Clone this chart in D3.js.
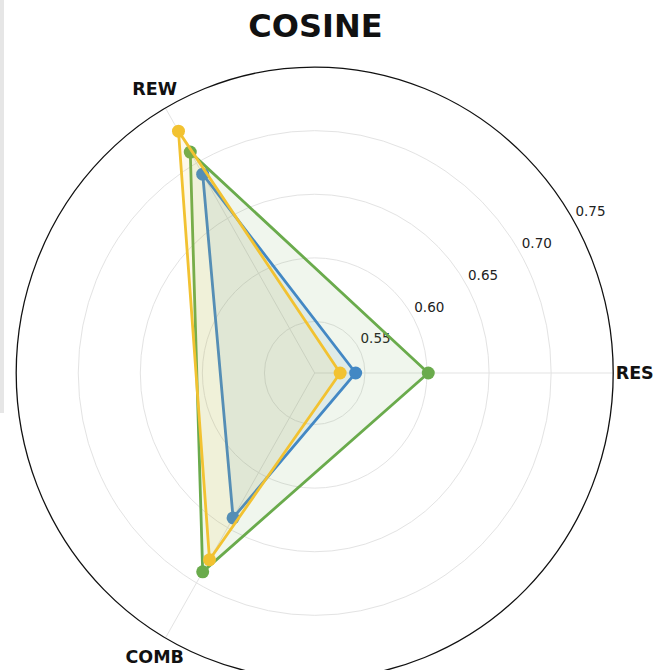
<!DOCTYPE html>
<html>
<head>
<meta charset="utf-8">
<script src="https://cdn.jsdelivr.net/npm/d3@7"></script>
<style>
  html, body { margin: 0; padding: 0; background: #ffffff; }
  svg { display: block; }
</style>
</head>
<body>
<svg id="chart" width="659" height="670"></svg>
<script>
// Radar axes, clockwise from the right
const categories = ["RES", "REW", "COMB"];
const categoryAngles = [0, 120, 240]; // degrees, counter-clockwise from east

// Cosine score of each run on each axis
const seriesNames = ["run A", "run B", "run C"];
const seriesA = [0.5425, 0.690, 0.641]; // blue
const seriesB = [0.601, 0.710, 0.690];  // green
const seriesC = [0.530, 0.729, 0.679];  // yellow
const seriesColors = ["#3f85d2", "#6aab4c", "#f2c231"];

const radialTicks = [0.55, 0.60, 0.65, 0.70, 0.75];
const radialDomain = [0.5095, 0.75];

const svg = d3.select("#chart");
const cx = 314.7, cy = 373;
const R = 298.5;
const ky = 1.025; // vertical aspect of the plot area

const r = d3.scaleLinear().domain(radialDomain).range([0, R]);
const rad = d => d * Math.PI / 180;
const px = (v, a) => cx + r(v) * Math.cos(rad(a));
const py = (v, a) => cy - r(v) * Math.sin(rad(a)) * ky;

// thin strip at the left edge
svg.append("rect").attr("x", 0).attr("y", 0).attr("width", 4).attr("height", 413)
  .attr("fill", "#e6e6e6");

const grid = svg.append("g");

// concentric grid rings
grid.selectAll("ellipse.ring")
  .data(radialTicks.slice(0, -1))
  .join("ellipse")
  .attr("class", "ring")
  .attr("cx", cx).attr("cy", cy)
  .attr("rx", d => r(d)).attr("ry", d => r(d) * ky)
  .attr("fill", "none")
  .attr("stroke", "#e3e3e3")
  .attr("stroke-width", 1);

// spokes
grid.selectAll("line.spoke")
  .data(categoryAngles)
  .join("line")
  .attr("class", "spoke")
  .attr("x1", cx).attr("y1", cy)
  .attr("x2", a => px(radialDomain[1], a))
  .attr("y2", a => py(radialDomain[1], a))
  .attr("stroke", "#e3e3e3")
  .attr("stroke-width", 1);

// outer frame
svg.append("ellipse")
  .attr("cx", cx).attr("cy", cy)
  .attr("rx", r(radialDomain[1])).attr("ry", r(radialDomain[1]) * ky)
  .attr("fill", "none")
  .attr("stroke", "#111")
  .attr("stroke-width", 1.3);

// radial tick labels along the 30° direction
const labelAngle = 30;
svg.selectAll("text.rtick")
  .data(radialTicks)
  .join("text")
  .attr("class", "rtick")
  .attr("x", d => cx + (r(d) + 20) * Math.cos(rad(labelAngle)))
  .attr("y", d => cy + 1.5 - (r(d) + 20) * Math.sin(rad(labelAngle)) * ky)
  .attr("text-anchor", "middle")
  .attr("dominant-baseline", "central")
  .attr("font-family", "DejaVu Sans, sans-serif")
  .attr("font-size", 13.5)
  .attr("fill", "#222")
  .text(d => d3.format(".2f")(d));

// series polygons
const allSeries = [seriesA, seriesB, seriesC];
const line = d3.line().curve(d3.curveLinearClosed);

const layers = svg.append("g");
allSeries.forEach((vals, i) => {
  const pts = vals.map((v, j) => [px(v, categoryAngles[j]), py(v, categoryAngles[j])]);
  const g = layers.append("g").attr("class", "series").attr("data-name", seriesNames[i]);
  g.append("path")
    .attr("d", line(pts))
    .attr("fill", seriesColors[i])
    .attr("fill-opacity", 0.1)
    .attr("stroke", seriesColors[i])
    .attr("stroke-width", 2.8)
    .attr("stroke-linejoin", "miter");
  g.selectAll("circle")
    .data(pts)
    .join("circle")
    .attr("cx", d => d[0]).attr("cy", d => d[1])
    .attr("r", 6.5)
    .attr("fill", seriesColors[i]);
});

// category labels
const labelR = R * 1.072;
svg.selectAll("text.cat")
  .data(categories)
  .join("text")
  .attr("class", "cat")
  .attr("x", (d, i) => cx + labelR * Math.cos(rad(categoryAngles[i])))
  .attr("y", (d, i) => cy - labelR * Math.sin(rad(categoryAngles[i])) * ky)
  .attr("text-anchor", "middle")
  .attr("dominant-baseline", "central")
  .attr("font-family", "DejaVu Sans, sans-serif")
  .attr("font-weight", "bold")
  .attr("font-size", 17.5)
  .attr("fill", "#111")
  .text(d => d);

// title
svg.append("text")
  .attr("x", 315.5).attr("y", 37)
  .attr("text-anchor", "middle")
  .attr("font-family", "DejaVu Sans, sans-serif")
  .attr("font-weight", "bold")
  .attr("font-size", 32)
  .attr("fill", "#111")
  .text("COSINE");
</script>
</body>
</html>
